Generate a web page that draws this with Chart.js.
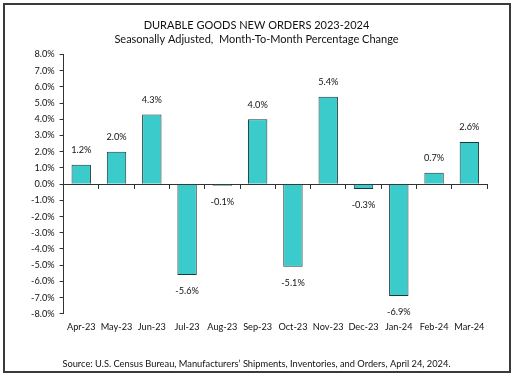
<!DOCTYPE html>
<html>
<head>
<meta charset="utf-8">
<script src="https://cdn.jsdelivr.net/npm/chart.js@4.4.0/dist/chart.umd.min.js"></script>
<style>
  body { margin: 0; background: #fff; }
  #frame {
    position: absolute;
    left: 3px;
    top: 3px;
    width: 504px;
    height: 366px;
    border: 2px solid #3a3a3a;
  }
  #chart { position: absolute; left: 0; top: 0; }
</style>
</head>
<body>
<div id="frame"></div>
<canvas id="chart" width="513" height="377"></canvas>
<script>
const months = [
  "Apr-23", "May-23", "Jun-23", "Jul-23", "Aug-23", "Sep-23",
  "Oct-23", "Nov-23", "Dec-23", "Jan-24", "Feb-24", "Mar-24"
];
const pctChange = [1.2, 2.0, 4.3, -5.6, -0.1, 4.0, -5.1, 5.4, -0.3, -6.9, 0.7, 2.6];

const titleLines = [
  "DURABLE GOODS NEW ORDERS 2023-2024",
  "Seasonally Adjusted,  Month-To-Month Percentage Change"
];
const sourceNote = "Source: U.S. Census Bureau, Manufacturers\u2019 Shipments, Inventories, and Orders, April 24, 2024.";

const FONT = "Lato, 'Open Sans', 'Liberation Sans', sans-serif";
const AXIS_COLOR = "#333";
const SMALL = 9.2;

// draws the value above (or below) each bar
const valueLabels = {
  id: "valueLabels",
  afterDatasetsDraw(chart) {
    const ctx = chart.ctx;
    const meta = chart.getDatasetMeta(0);
    ctx.save();
    ctx.font = SMALL + "px " + FONT;
    ctx.fillStyle = "#111";
    ctx.textAlign = "center";
    ctx.textBaseline = "middle";
    meta.data.forEach((bar, i) => {
      const v = pctChange[i];
      const y = v >= 0 ? bar.y - 14.5 : bar.y + 16;
      ctx.fillText(v.toFixed(1) + "%", bar.x, y);
    });
    ctx.restore();
  }
};

new Chart(document.getElementById("chart").getContext("2d"), {
  type: "bar",
  data: {
    labels: months,
    datasets: [
      {
        data: pctChange,
        backgroundColor: "#3bcbcb",
        borderColor: "#1d3a3a",
        borderWidth: 1,
        categoryPercentage: 1,
        barPercentage: 0.55
      }
    ]
  },
  options: {
    responsive: false,
    animation: false,
    layout: {
      padding: { top: 5, right: 26, bottom: 5, left: 26 }
    },
    plugins: {
      legend: { display: false },
      tooltip: { enabled: false },
      title: {
        display: true,
        text: titleLines,
        color: "#111",
        font: { family: FONT, size: 11, weight: "normal", lineHeight: 1.25 },
        padding: { top: 14, bottom: 8 }
      },
      subtitle: {
        display: true,
        position: "bottom",
        text: sourceNote,
        color: "#111",
        font: { family: FONT, size: 9.3, weight: "normal", lineHeight: 1.2 },
        padding: { top: 18, bottom: 2 }
      }
    },
    scales: {
      x: {
        position: "bottom",
        grid: { display: false, drawTicks: false },
        border: { display: false },
        ticks: {
          color: "#111",
          font: { family: FONT, size: SMALL },
          padding: 8,
          maxRotation: 0,
          autoSkip: false
        }
      },
      // axis line and tick marks sitting on the zero line
      xZero: {
        type: "category",
        labels: months,
        offset: true,
        position: { y: 0 },
        grid: {
          offset: true,
          drawOnChartArea: false,
          drawTicks: true,
          tickLength: 4,
          color: AXIS_COLOR
        },
        border: { color: AXIS_COLOR, width: 1 },
        ticks: { display: false }
      },
      y: {
        min: -8,
        max: 8,
        grid: {
          drawOnChartArea: false,
          tickLength: 4,
          color: AXIS_COLOR
        },
        border: { color: AXIS_COLOR, width: 1 },
        ticks: {
          stepSize: 1,
          padding: 5,
          color: "#111",
          font: { family: FONT, size: SMALL },
          callback: (v) => v.toFixed(1) + "%"
        }
      }
    }
  },
  plugins: [valueLabels]
});
</script>
</body>
</html>
